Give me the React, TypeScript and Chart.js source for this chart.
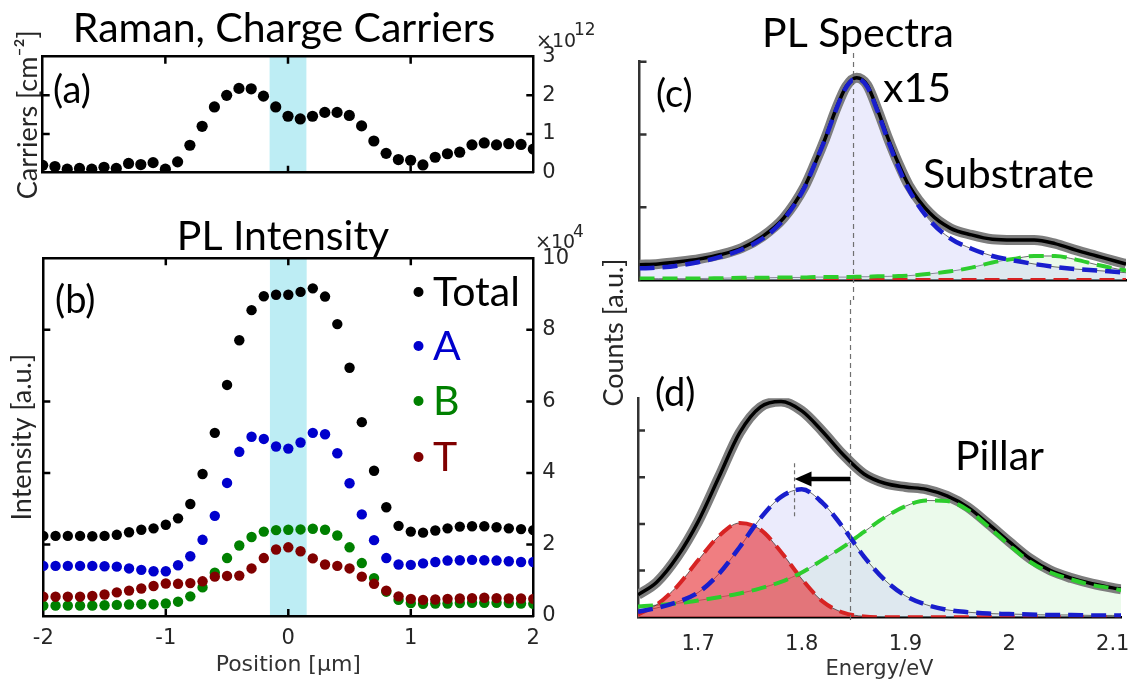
import React, { useEffect, useRef } from "react";
import { Chart, registerables } from "chart.js";

Chart.register(...registerables);

// ---------------- data: line scan (panels a, b) ----------------
const positions = [-2.0, -1.9, -1.8, -1.7, -1.6, -1.5, -1.4, -1.3, -1.2, -1.1, -1.0, -0.9, -0.8, -0.7, -0.6, -0.5, -0.4, -0.3, -0.2, -0.1, 0.0, 0.1, 0.2, 0.3, 0.4, 0.5, 0.6, 0.7, 0.8, 0.9, 1.0, 1.1, 1.2, 1.3, 1.4, 1.5, 1.6, 1.7, 1.8, 1.9, 2.0];

// charge carriers, x10^12 cm^-2
const carriers = [0.19, 0.16, 0.09, 0.11, 0.09, 0.14, 0.11, 0.24, 0.21, 0.26, 0.09, 0.28, 0.71, 1.2, 1.7, 2.0, 2.18, 2.17, 1.98, 1.7, 1.46, 1.39, 1.46, 1.56, 1.56, 1.48, 1.21, 0.82, 0.5, 0.34, 0.32, 0.2, 0.4, 0.49, 0.53, 0.72, 0.77, 0.72, 0.75, 0.73, 0.61];

// PL intensity, x10^4 a.u.
const plTotal = [2.24, 2.24, 2.24, 2.24, 2.23, 2.24, 2.27, 2.34, 2.41, 2.45, 2.55, 2.73, 3.13, 3.97, 5.12, 6.46, 7.71, 8.55, 8.94, 8.98, 8.98, 9.06, 9.16, 8.93, 8.16, 6.94, 5.42, 4.06, 3.04, 2.52, 2.36, 2.33, 2.39, 2.45, 2.5, 2.51, 2.51, 2.48, 2.45, 2.43, 2.4];
const plA = [1.4, 1.4, 1.4, 1.4, 1.4, 1.39, 1.38, 1.33, 1.29, 1.25, 1.25, 1.42, 1.67, 2.13, 2.8, 3.72, 4.59, 5.01, 4.95, 4.74, 4.68, 4.85, 5.12, 5.08, 4.55, 3.71, 2.84, 2.12, 1.62, 1.44, 1.43, 1.47, 1.51, 1.55, 1.56, 1.57, 1.56, 1.55, 1.53, 1.51, 1.51];
const plB = [0.29, 0.29, 0.29, 0.29, 0.29, 0.3, 0.31, 0.32, 0.33, 0.33, 0.35, 0.4, 0.55, 0.8, 1.21, 1.62, 1.97, 2.21, 2.36, 2.4, 2.41, 2.42, 2.44, 2.41, 2.25, 1.92, 1.48, 1.06, 0.68, 0.45, 0.36, 0.34, 0.35, 0.35, 0.36, 0.37, 0.37, 0.37, 0.36, 0.35, 0.34];
const plT = [0.54, 0.54, 0.54, 0.54, 0.56, 0.6, 0.66, 0.71, 0.77, 0.84, 0.91, 0.9, 0.92, 0.97, 1.1, 1.12, 1.13, 1.33, 1.62, 1.86, 1.92, 1.81, 1.61, 1.44, 1.4, 1.33, 1.1, 0.9, 0.71, 0.55, 0.48, 0.45, 0.46, 0.48, 0.49, 0.5, 0.51, 0.5, 0.49, 0.49, 0.48];
const plSeriesNames = ["Total", "A", "B", "T"];

const pillarBand = [-0.15, 0.15];
const positionTicks = [-2, -1, 0, 1, 2];
const carrierTicks = [0, 1, 2, 3];
const intensityTicks = [0, 2, 4, 6, 8, 10];

// ---------------- data: PL spectra (panels c, d) ----------------
const substrateEnergy = [1.642, 1.66, 1.68, 1.7, 1.72, 1.74, 1.76, 1.78, 1.8, 1.81, 1.82, 1.83, 1.84, 1.85, 1.86, 1.87, 1.88, 1.89, 1.9, 1.92, 1.94, 1.96, 1.98, 2.0, 2.02, 2.04, 2.06, 2.08, 2.1, 2.108];
const substrateTotal = [0.21, 0.22, 0.25, 0.29, 0.35, 0.44, 0.6, 0.85, 1.28, 1.6, 1.95, 2.34, 2.66, 2.78, 2.68, 2.34, 1.95, 1.6, 1.3, 0.92, 0.71, 0.62, 0.56, 0.55, 0.55, 0.5, 0.41, 0.33, 0.25, 0.22];
const substrateA = [0.16, 0.17, 0.2, 0.25, 0.32, 0.42, 0.57, 0.83, 1.27, 1.6, 1.94, 2.33, 2.65, 2.77, 2.66, 2.32, 1.92, 1.55, 1.24, 0.82, 0.57, 0.43, 0.33, 0.27, 0.22, 0.18, 0.15, 0.13, 0.11, 0.1];
const substrateB = [0.02, 0.02, 0.02, 0.02, 0.025, 0.03, 0.03, 0.035, 0.035, 0.04, 0.04, 0.04, 0.04, 0.045, 0.045, 0.05, 0.05, 0.055, 0.06, 0.085, 0.12, 0.17, 0.24, 0.29, 0.33, 0.33, 0.28, 0.21, 0.15, 0.13];
const substrateT = [0, 0, 0, 0, 0, 0, 0, 0, 0, 0, 0, 0, 0, 0, 0, 0, 0, 0, 0, 0, 0, 0, 0, 0, 0, 0, 0, 0, 0, 0];

const pillarEnergy = [1.642, 1.66, 1.68, 1.7, 1.72, 1.74, 1.76, 1.78, 1.8, 1.82, 1.84, 1.86, 1.88, 1.9, 1.92, 1.94, 1.96, 1.98, 2.0, 2.02, 2.04, 2.06, 2.08, 2.1, 2.108];
const pillarTotal = [0.48, 0.75, 1.3, 2.05, 3.0, 3.95, 4.5, 4.62, 4.42, 3.98, 3.48, 3.07, 2.87, 2.79, 2.74, 2.6, 2.36, 2.0, 1.62, 1.26, 1.0, 0.84, 0.72, 0.63, 0.6];
const pillarA = [0.12, 0.2, 0.33, 0.53, 0.93, 1.5, 2.12, 2.58, 2.74, 2.45, 1.92, 1.3, 0.8, 0.46, 0.27, 0.16, 0.11, 0.08, 0.07, 0.06, 0.05, 0.05, 0.04, 0.04, 0.04];
const pillarB = [0.23, 0.26, 0.3, 0.36, 0.43, 0.51, 0.62, 0.76, 0.96, 1.23, 1.51, 1.83, 2.14, 2.38, 2.5, 2.49, 2.3, 1.94, 1.55, 1.19, 0.96, 0.81, 0.69, 0.62, 0.58];
const pillarT = [0.06, 0.27, 0.67, 1.22, 1.74, 2.02, 1.88, 1.4, 0.82, 0.34, 0.1, 0.02, 0, 0, 0, 0, 0, 0, 0, 0, 0, 0, 0, 0, 0];

const energyRange = [1.642, 2.108];
const energyTicks = [1.7, 1.8, 1.9, 2, 2.1];
const substrateCountTicks = [1, 2, 3];
const pillarCountTicks = [1, 2, 3, 4];
const substrateCountMax = 3;
const pillarCountMax = 4.69;

// peak positions (eV) for the reference line and the red-shift arrow
const substratePeakEV = 1.847;
const pillarPeakEV = 1.793;
const arrowLevel = 2.96;
const pillarPeakMark = [2.1, 3.3];

// ---------------- styles ----------------
const LATO = "Lato";
const DEJAVU = "DejaVu Sans";
const TICK_COLOR = "#262626";
const BLUE_DOT = "rgb(0,0,205)";
const GREEN_DOT = "rgb(0,128,0)";
const RED_DOT = "rgb(128,0,0)";
const BLUE_DASH = "rgb(25,30,205)";
const GREEN_DASH = "rgb(45,205,45)";
const RED_DASH = "rgb(215,35,35)";

const xy = (xs: number[], ys: number[]) => xs.map((x, i) => ({ x, y: ys[i] }));
const fixW = (w: number) => (s: any) => { s.width = w; };
const fixH = (h: number) => (s: any) => { s.height = h; };
const setTicks = (vals: number[]) => (s: any) => { s.ticks = vals.map((v) => ({ value: v })); };
const fmt = (v: any) => String(Math.round(Number(v) * 10) / 10);

const frameBorder = { display: true, color: "#000", width: 2.5 };
const grayBorder = { display: true, color: "#333", width: 2.5 };
const noGrid = { display: false, drawTicks: false };
const noTicks = { display: false };

type TextItem = {
  text: string; x: number; y: number; font: string; color?: string;
  align?: CanvasTextAlign; baseline?: CanvasTextBaseline; rotate?: number;
};

const textPlugin = (items: TextItem[]) => ({
  id: "panelText",
  afterDraw(chart: any) {
    const ctx = chart.ctx;
    for (const t of items) {
      ctx.save();
      ctx.translate(t.x, t.y);
      if (t.rotate) ctx.rotate(t.rotate);
      ctx.font = t.font;
      ctx.fillStyle = t.color || "#000";
      ctx.textAlign = t.align || "left";
      ctx.textBaseline = t.baseline || "alphabetic";
      ctx.fillText(t.text, 0, 0);
      ctx.restore();
    }
  },
});

const bandPlugin = {
  id: "pillarBand",
  beforeDraw(chart: any) {
    const { ctx, chartArea: a, scales } = chart;
    const x0 = scales.x.getPixelForValue(pillarBand[0]);
    const x1 = scales.x.getPixelForValue(pillarBand[1]);
    ctx.save();
    ctx.fillStyle = "#bdedf4";
    ctx.fillRect(x0, a.top, x1 - x0, a.bottom - a.top);
    ctx.restore();
  },
};

type TickSpec = { x?: number[]; xSides?: string[]; y?: number[]; ySides?: string[]; color: string };
const inwardTicks = (spec: TickSpec) => ({
  id: "inwardTicks",
  afterDatasetsDraw(chart: any) {
    const { ctx, chartArea: a, scales } = chart;
    const len = 7;
    ctx.save();
    ctx.strokeStyle = spec.color;
    ctx.lineWidth = 2.5;
    ctx.beginPath();
    for (const v of spec.x || []) {
      const p = scales.x.getPixelForValue(v);
      if ((spec.xSides || []).includes("top")) { ctx.moveTo(p, a.top); ctx.lineTo(p, a.top + len); }
      if ((spec.xSides || []).includes("bottom")) { ctx.moveTo(p, a.bottom); ctx.lineTo(p, a.bottom - len); }
    }
    for (const v of spec.y || []) {
      const p = scales.y.getPixelForValue(v);
      if ((spec.ySides || []).includes("left")) { ctx.moveTo(a.left, p); ctx.lineTo(a.left + len, p); }
      if ((spec.ySides || []).includes("right")) { ctx.moveTo(a.right, p); ctx.lineTo(a.right - len, p); }
    }
    ctx.stroke();
    ctx.restore();
  },
});

const inner = (ticks: number[]) => ticks.slice(1, -1);

// ---------------- panel (a) ----------------
function buildCarriers(canvas: HTMLCanvasElement) {
  return new Chart(canvas, {
    type: "scatter",
    data: {
      datasets: [{
        label: "Carriers",
        data: xy(positions, carriers),
        pointRadius: 5.6,
        pointBackgroundColor: "#000",
        pointBorderWidth: 0,
        borderColor: "#000",
      }],
    },
    options: {
      responsive: false,
      animation: false,
      events: [],
      layout: { padding: 0 },
      plugins: { legend: { display: false }, tooltip: { enabled: false } },
      scales: {
        x: { type: "linear", position: "bottom", min: -2, max: 2, ticks: noTicks, grid: noGrid, border: frameBorder, afterFit: fixH(27.3) },
        x2: { type: "linear", position: "top", min: -2, max: 2, ticks: noTicks, grid: noGrid, border: frameBorder, afterFit: fixH(56.7) },
        y: {
          type: "linear", position: "left", min: 0, max: 3, ticks: noTicks, grid: noGrid, border: frameBorder,
          title: { display: true, text: "Carriers [cm\u207B\u00B2]", font: { family: LATO, size: 27 }, color: TICK_COLOR, padding: { top: 12.3, bottom: 0 } },
          afterFit: fixW(42.7),
        },
        y2: {
          type: "linear", position: "right", min: 0, max: 3, afterBuildTicks: setTicks(carrierTicks),
          ticks: { font: { family: DEJAVU, size: 21 }, color: TICK_COLOR, padding: 9, callback: fmt },
          grid: noGrid, border: frameBorder, afterFit: fixW(86.7),
        },
      },
    } as any,
    plugins: [
      bandPlugin,
      inwardTicks({ x: inner(positionTicks), xSides: ["top", "bottom"], y: inner(carrierTicks), ySides: ["left", "right"], color: "#000" }),
      textPlugin([
        { text: "Raman, Charge Carriers", x: 284, y: 42, font: `41px ${LATO}`, align: "center" },
        { text: "(a)", x: 53, y: 103, font: `38px ${LATO}` },
        { text: "\u00D710", x: 536, y: 47, font: `19px ${DEJAVU}`, color: TICK_COLOR },
        { text: "12", x: 574, y: 35, font: `17px ${DEJAVU}`, color: TICK_COLOR },
      ]),
    ],
  });
}

// ---------------- panel (b) ----------------
const plColors = ["#000", BLUE_DOT, GREEN_DOT, RED_DOT];
const plLegendY = [92, 146, 201, 257];

function buildIntensity(canvas: HTMLCanvasElement) {
  const series = [plTotal, plA, plB, plT];
  return new Chart(canvas, {
    type: "scatter",
    data: {
      datasets: series.map((s, i) => ({
        label: plSeriesNames[i],
        data: xy(positions, s),
        pointRadius: 5.2,
        pointBackgroundColor: plColors[i],
        pointBorderWidth: 0,
        borderColor: plColors[i],
        order: 4 - i,
      })),
    },
    options: {
      responsive: false,
      animation: false,
      events: [],
      layout: { padding: 0 },
      plugins: { legend: { display: false }, tooltip: { enabled: false } },
      scales: {
        x: {
          type: "linear", position: "bottom", min: -2, max: 2, afterBuildTicks: setTicks(positionTicks),
          ticks: { font: { family: DEJAVU, size: 21 }, color: TICK_COLOR, padding: 9.7, callback: fmt, maxRotation: 0 },
          grid: noGrid, border: frameBorder,
          title: { display: true, text: "Position [\u03BCm]", font: { family: DEJAVU, size: 22 }, color: "#333", padding: { top: 0, bottom: 6.8 } },
          afterFit: fixH(69),
        },
        x2: { type: "linear", position: "top", min: -2, max: 2, ticks: noTicks, grid: noGrid, border: frameBorder, afterFit: fixH(58.3) },
        y: {
          type: "linear", position: "left", min: 0, max: 10, ticks: noTicks, grid: noGrid, border: frameBorder,
          title: { display: true, text: "Intensity [a.u.]", font: { family: LATO, size: 27 }, color: TICK_COLOR, padding: { top: 6.3, bottom: 0 } },
          afterFit: fixW(43.3),
        },
        y2: {
          type: "linear", position: "right", min: 0, max: 10, afterBuildTicks: setTicks(intensityTicks),
          ticks: { font: { family: DEJAVU, size: 21 }, color: TICK_COLOR, padding: 9, callback: fmt },
          grid: noGrid, border: frameBorder, afterFit: fixW(86.7),
        },
      },
    } as any,
    plugins: [
      bandPlugin,
      inwardTicks({ x: inner(positionTicks), xSides: ["top", "bottom"], y: inner(intensityTicks), ySides: ["left", "right"], color: "#000" }),
      {
        id: "plLegend",
        afterDraw(chart: any) {
          const ctx = chart.ctx;
          plSeriesNames.forEach((name, i) => {
            ctx.save();
            ctx.fillStyle = plColors[i];
            ctx.beginPath();
            ctx.arc(418.5, plLegendY[i], 5, 0, Math.PI * 2);
            ctx.fill();
            ctx.font = `41px ${LATO}`;
            ctx.textBaseline = "alphabetic";
            ctx.fillText(name, 433, plLegendY[i] + 14);
            ctx.restore();
          });
        },
      },
      textPlugin([
        { text: "PL Intensity", x: 283, y: 50, font: `41px ${LATO}`, align: "center" },
        { text: "(b)", x: 55, y: 113, font: `38px ${LATO}` },
        { text: "\u00D710", x: 535, y: 48, font: `19px ${DEJAVU}`, color: TICK_COLOR },
        { text: "4", x: 573, y: 37, font: `17px ${DEJAVU}`, color: TICK_COLOR },
      ]),
    ],
  });
}

// ---------------- panels (c), (d) ----------------
const lineBase = { pointRadius: 0, cubicInterpolationMode: "monotone" as const, fill: false };
const DASH = [15, 8];

function spectrumDatasets(energy: number[], total: number[], a: number[], b: number[], t: number[], withRedFill: boolean) {
  const ds: any[] = [
    { ...lineBase, label: "A (dashed)", data: xy(energy, a), borderColor: BLUE_DASH, borderWidth: 4.5, borderDash: DASH, order: 0 },
    { ...lineBase, label: "B (dashed)", data: xy(energy, b), borderColor: GREEN_DASH, borderWidth: 4, borderDash: DASH, order: 1 },
    { ...lineBase, label: "T (dashed)", data: xy(energy, t), borderColor: RED_DASH, borderWidth: 4, borderDash: DASH, order: 2 },
    { ...lineBase, label: "Fit", data: xy(energy, total), borderColor: "#000", borderWidth: 3.5, order: 3 },
    { ...lineBase, label: "Measured", data: xy(energy, total), borderColor: "rgb(125,125,125)", borderWidth: 10, order: 4 },
    { ...lineBase, label: "A area", data: xy(energy, a), fill: "origin", backgroundColor: "rgba(195,195,245,0.33)", borderColor: "rgba(40,40,40,0.85)", borderWidth: 0.8, order: 6 },
    { ...lineBase, label: "B area", data: xy(energy, b), fill: "origin", backgroundColor: "rgba(195,240,195,0.33)", borderColor: "rgba(40,40,40,0.85)", borderWidth: 0.8, order: 7 },
  ];
  if (withRedFill) {
    ds.push({ ...lineBase, label: "T area", data: xy(energy, t), fill: "origin", backgroundColor: "rgba(230,40,45,0.6)", borderColor: "rgba(40,40,40,0.85)", borderWidth: 0.8, order: 5 });
  }
  return ds;
}

const refLine = (yFrom: number, yTo: number) => ({
  id: "refLine",
  afterDatasetsDraw(chart: any) {
    const ctx = chart.ctx;
    const x = chart.scales.x.getPixelForValue(substratePeakEV);
    ctx.save();
    ctx.strokeStyle = "#707070";
    ctx.lineWidth = 1.2;
    ctx.setLineDash([5, 4]);
    ctx.beginPath();
    ctx.moveTo(x, yFrom);
    ctx.lineTo(x, yTo);
    ctx.stroke();
    ctx.restore();
  },
});

function buildSubstrate(canvas: HTMLCanvasElement) {
  return new Chart(canvas, {
    type: "line",
    data: { datasets: spectrumDatasets(substrateEnergy, substrateTotal, substrateA, substrateB, substrateT, false) },
    options: {
      responsive: false,
      animation: false,
      events: [],
      layout: { padding: { top: 61.7, right: 18, left: 0, bottom: 0 } },
      plugins: { legend: { display: false }, tooltip: { enabled: false } },
      scales: {
        x: { type: "linear", position: "bottom", min: energyRange[0], max: energyRange[1], ticks: noTicks, grid: noGrid, border: frameBorder, afterFit: fixH(20) },
        y: { type: "linear", position: "left", min: 0, max: substrateCountMax, ticks: noTicks, grid: noGrid, border: grayBorder, afterFit: fixW(49.5) },
      },
    } as any,
    plugins: [
      inwardTicks({ y: substrateCountTicks, ySides: ["left"], color: "#333" }),
      refLine(53, 300),
      textPlugin([
        { text: "PL Spectra", x: 268, y: 47, font: `41px ${LATO}`, align: "center" },
        { text: "(c)", x: 66, y: 107, font: `38px ${LATO}` },
        { text: "x15", x: 293, y: 102, font: `41px ${LATO}` },
        { text: "Substrate", x: 333, y: 188, font: `41px ${LATO}` },
      ]),
    ],
  });
}

function buildPillar(canvas: HTMLCanvasElement) {
  return new Chart(canvas, {
    type: "line",
    data: { datasets: spectrumDatasets(pillarEnergy, pillarTotal, pillarA, pillarB, pillarT, true) },
    options: {
      responsive: false,
      animation: false,
      events: [],
      layout: { padding: { top: 158.3, right: 19, left: 0, bottom: 0 } },
      plugins: { legend: { display: false }, tooltip: { enabled: false } },
      scales: {
        x: {
          type: "linear", position: "bottom", min: energyRange[0], max: energyRange[1], afterBuildTicks: setTicks(energyTicks),
          ticks: { font: { family: DEJAVU, size: 21 }, color: TICK_COLOR, padding: 14.2, callback: fmt, maxRotation: 0 },
          grid: noGrid, border: frameBorder,
          title: { display: true, text: "Energy/eV", font: { family: DEJAVU, size: 21 }, color: "#333", padding: { top: 0, bottom: 2.9 } },
          afterFit: fixH(67.7),
        },
        y: { type: "linear", position: "left", min: 0, max: pillarCountMax, ticks: noTicks, grid: noGrid, border: grayBorder, afterFit: fixW(48) },
      },
    } as any,
    plugins: [
      inwardTicks({ y: pillarCountTicks, ySides: ["left"], color: "#333" }),
      refLine(60, 382),
      {
        id: "shiftArrow",
        afterDatasetsDraw(chart: any) {
          const { ctx, scales } = chart;
          const xs = scales.x.getPixelForValue(substratePeakEV);
          const xt = scales.x.getPixelForValue(pillarPeakEV);
          const y = scales.y.getPixelForValue(arrowLevel);
          ctx.save();
          ctx.strokeStyle = "#707070";
          ctx.lineWidth = 1.2;
          ctx.setLineDash([4, 3]);
          ctx.beginPath();
          ctx.moveTo(xt, scales.y.getPixelForValue(pillarPeakMark[1]));
          ctx.lineTo(xt, scales.y.getPixelForValue(pillarPeakMark[0]));
          ctx.stroke();
          ctx.setLineDash([]);
          ctx.strokeStyle = "#000";
          ctx.lineWidth = 4.5;
          ctx.beginPath();
          ctx.moveTo(xs, y);
          ctx.lineTo(xt + 12, y);
          ctx.stroke();
          ctx.fillStyle = "#000";
          ctx.beginPath();
          ctx.moveTo(xt, y);
          ctx.lineTo(xt + 17, y - 7.5);
          ctx.lineTo(xt + 17, y + 7.5);
          ctx.closePath();
          ctx.fill();
          ctx.restore();
        },
      },
      textPlugin([
        { text: "(d)", x: 65, y: 166, font: `38px ${LATO}` },
        { text: "Pillar", x: 365, y: 230, font: `41px ${LATO}` },
        { text: "Counts [a.u.]", x: 24.5, y: 92.5, font: `27px ${LATO}`, color: TICK_COLOR, align: "center", baseline: "middle", rotate: -Math.PI / 2 },
      ]),
    ],
  });
}

// ---------------- layout ----------------
type Box = { left: number; top: number; width: number; height: number };

function ChartCanvas({ box, build }: { box: Box; build: (c: HTMLCanvasElement) => Chart }) {
  const ref = useRef<HTMLCanvasElement | null>(null);
  useEffect(() => {
    const chart = build(ref.current as HTMLCanvasElement);
    return () => chart.destroy();
  }, [build]);
  return (
    <canvas
      ref={ref}
      width={box.width}
      height={box.height}
      style={{ position: "absolute", left: box.left, top: box.top, width: box.width, height: box.height }}
    />
  );
}

export default function App() {
  return (
    <div style={{ position: "absolute", left: 0, top: 0, width: 1144, height: 685, background: "#fff", overflow: "hidden" }}>
      <ChartCanvas box={{ left: 0, top: 0, width: 620, height: 200 }} build={buildCarriers} />
      <ChartCanvas box={{ left: 0, top: 200, width: 620, height: 485 }} build={buildIntensity} />
      <ChartCanvas box={{ left: 590, top: 0, width: 554, height: 300 }} build={buildSubstrate} />
      <ChartCanvas box={{ left: 590, top: 240, width: 554, height: 445 }} build={buildPillar} />
    </div>
  );
}
